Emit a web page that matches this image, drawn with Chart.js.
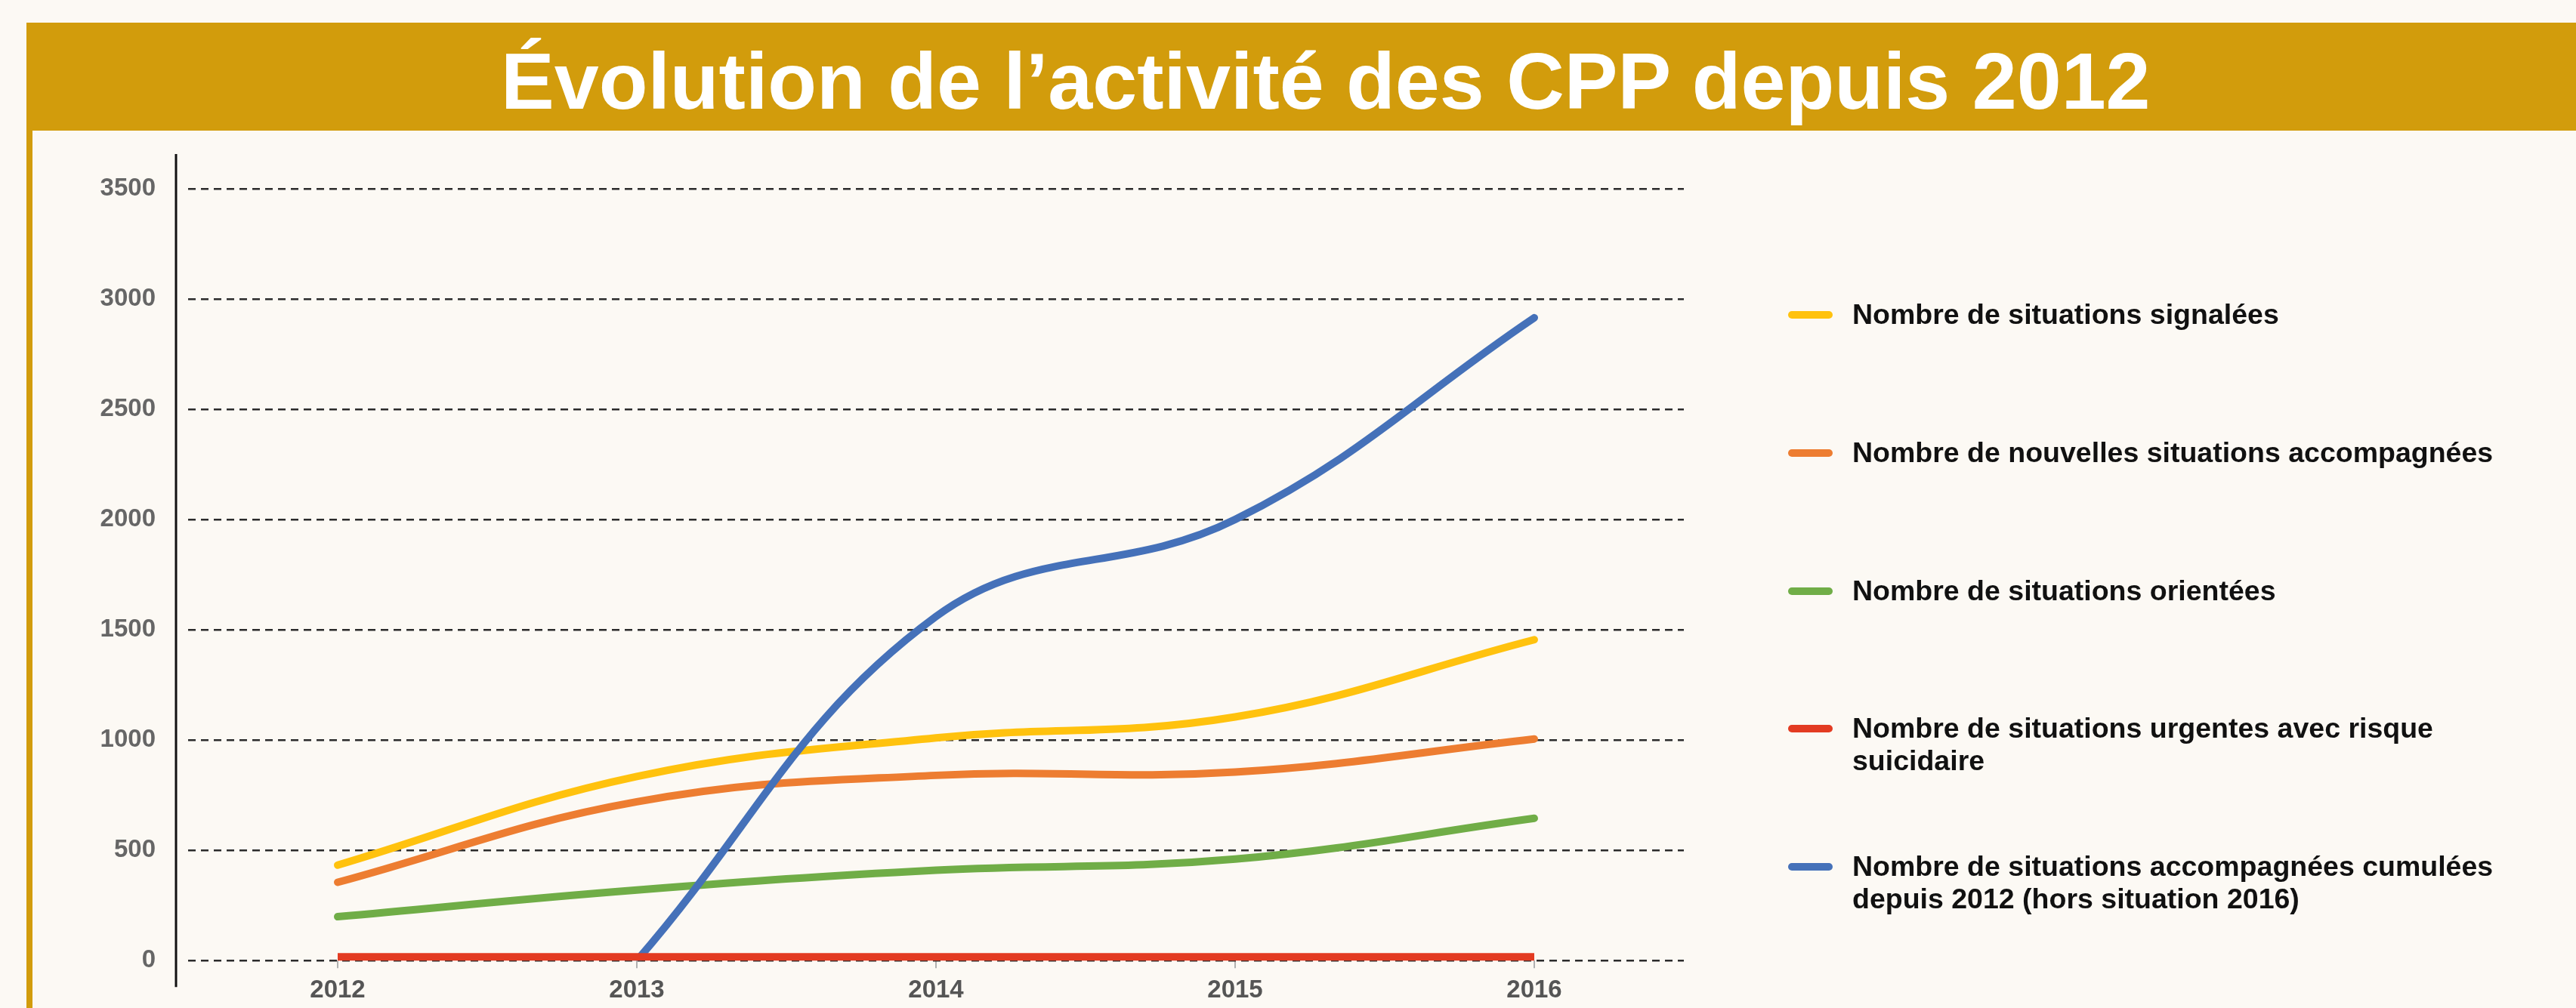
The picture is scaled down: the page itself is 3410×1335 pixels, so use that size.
<!DOCTYPE html>
<html lang="fr">
<head>
<meta charset="utf-8">
<title>Évolution de l’activité des CPP depuis 2012</title>
<script src="https://cdn.jsdelivr.net/npm/chart.js@4/dist/chart.umd.min.js"></script>
<style>
  html, body {
    margin: 0;
    padding: 0;
    width: 3410px;
    height: 1335px;
    overflow: hidden;
    background: #fcf9f4;
    font-family: "Liberation Sans", Arial, Helvetica, sans-serif;
  }
  .band {
    position: absolute;
    left: 35px;
    top: 30px;
    width: 3375px;
    height: 143px;
    background: #d29c0c;
  }
  .band-line {
    position: absolute;
    left: 35px;
    top: 173px;
    width: 8px;
    height: 1162px;
    background: #d29c0c;
  }
  .title {
    position: absolute;
    left: 663px;
    top: 54px;
    font-size: 106px;
    line-height: 106px;
    font-weight: bold;
    color: #ffffff;
    white-space: nowrap;
  }
  #chart {
    position: absolute;
    left: 0;
    top: 0;
  }
  .legend-item {
    position: absolute;
    left: 2367px;
    font-size: 37.5px;
    line-height: 43px;
    font-weight: bold;
    color: #111111;
    white-space: nowrap;
  }
  .legend-item .swatch {
    position: absolute;
    left: 0;
    top: 17px;
    width: 59px;
    height: 10px;
    border-radius: 5px;
  }
  .legend-item .txt {
    margin-left: 85px;
  }
</style>
</head>
<body>

<div class="band"></div>
<div class="band-line"></div>
<div class="title">Évolution de l’activité des CPP depuis 2012</div>

<canvas id="chart" width="3410" height="1335"></canvas>

<div id="legend"></div>

<script>

/* ==========================================
   DATA
========================================== */

const years = ["2012", "2013", "2014", "2015", "2016"];

const signalees    = [433, 835, 1010, 1105, 1455];
const nouvelles    = [355, 720, 840, 855, 1005];
const orientees    = [199, 320, 410, 460, 645];
const urgentes     = [12, 12, 12, 12, 12];
const cumulees     = [null, 0, 1560, 2000, 2915];

const yTicks = [0, 500, 1000, 1500, 2000, 2500, 3000, 3500];

const seriesLabels = [
    "Nombre de situations signalées",
    "Nombre de nouvelles situations accompagnées",
    "Nombre de situations orientées",
    "Nombre de situations urgentes avec risque<br>suicidaire",
    "Nombre de situations accompagnées cumulées<br>depuis 2012 (hors situation 2016)"
];

const seriesColors = ["#ffc20e", "#ed7d31", "#70ad47", "#e33b22", "#4571b9"];

/* ==========================================
   CHART
========================================== */

// y axis line sits a bit left of the grid, like the original
const yAxisLine = {
    id: "yAxisLine",
    afterDraw(chart){
        const {ctx, chartArea} = chart;
        ctx.save();
        ctx.strokeStyle = "#111";
        ctx.lineWidth = 3;
        ctx.beginPath();
        ctx.moveTo(chartArea.left - 16, chartArea.top - 46);
        ctx.lineTo(chartArea.left - 16, chartArea.bottom + 35);
        ctx.stroke();
        ctx.restore();
    }
};

const seriesData = [signalees, nouvelles, orientees, urgentes, cumulees];
const drawOrder = [4, 3, 2, 0, 1];

const datasets = seriesData.map((data, i)=>({
    label: seriesLabels[i].replace("<br>", " "),
    data,
    borderColor: seriesColors[i],
    backgroundColor: seriesColors[i],
    borderWidth: i === 3 ? 13 : 10,
    borderCapStyle: i === 3 ? "butt" : "round",
    borderJoinStyle: "round",
    tension: i === 3 ? 0 : 0.4,
    pointRadius: 0,
    pointHoverRadius: 0,
    fill: false,
    order: drawOrder[i]
}));

const labelFont = {
    family: "'Liberation Sans', Arial, sans-serif",
    size: 33,
    weight: "bold"
};

new Chart(document.getElementById("chart"), {

    type: "line",

    data: {
        labels: years,
        datasets
    },

    options: {

        responsive: false,
        animation: false,

        layout: {
            padding: {left: 0, right: 1181, top: 250, bottom: 0}
        },

        plugins: {
            legend: {display: false},
            tooltip: {enabled: false},
            title: {display: false}
        },

        scales: {

            x: {
                offset: true,
                afterFit(scale){ scale.height = 52; },
                grid: {
                    drawOnChartArea: false,
                    drawTicks: true,
                    tickLength: 10,
                    color: "#b0b0b0",
                    lineWidth: 2
                },
                border: {display: false},
                ticks: {
                    color: "#555",
                    font: labelFont,
                    padding: 10,
                    maxRotation: 0
                }
            },

            y: {
                min: 0,
                max: 3500,
                afterFit(scale){ scale.width = 249; },
                afterBuildTicks(scale){
                    scale.ticks = yTicks.map(v=>({value: v}));
                },
                grid: {
                    drawTicks: false,
                    color: "#2b2b2b",
                    lineWidth: 2.5
                },
                border: {
                    display: false,
                    dash: [10, 7]
                },
                ticks: {
                    color: "#666",
                    font: labelFont,
                    padding: 43,
                    callback: v => String(v)
                }
            }

        }

    },

    plugins: [yAxisLine]

});

/* ==========================================
   LEGEND
========================================== */

const legend = document.getElementById("legend");

seriesLabels.forEach((txt, i)=>{

    const item = document.createElement("div");
    item.className = "legend-item";
    item.style.top = (395 + i * 182.75) + "px";

    const sw = document.createElement("span");
    sw.className = "swatch";
    sw.style.background = seriesColors[i];

    const label = document.createElement("div");
    label.className = "txt";
    label.innerHTML = txt;

    item.appendChild(sw);
    item.appendChild(label);
    legend.appendChild(item);

});

</script>
</body>
</html>
